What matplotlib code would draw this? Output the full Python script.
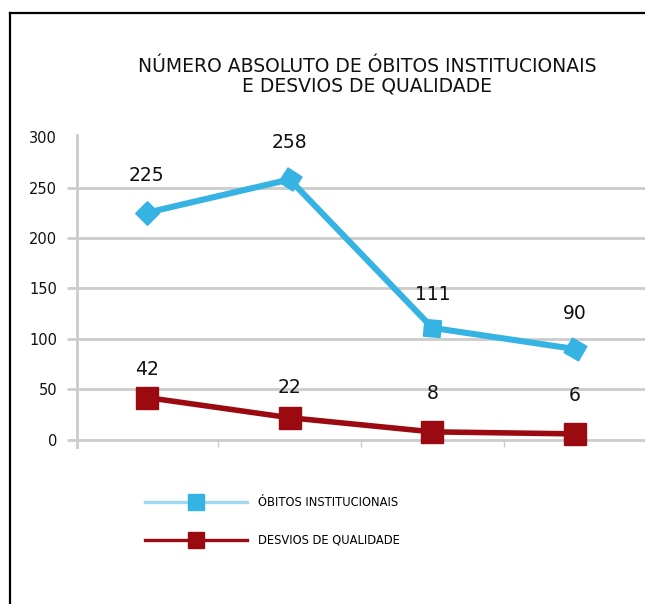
import matplotlib
matplotlib.use("Agg")
import matplotlib.pyplot as plt
from matplotlib.lines import Line2D

# data
categories = ["1", "2", "3", "4"]
obitos = [225, 258, 111, 90]
desvios = [42, 22, 8, 6]
yticks = [0, 50, 100, 150, 200, 250, 300]

title = "NÚMERO ABSOLUTO DE ÓBITOS INSTITUCIONAIS\nE DESVIOS DE QUALIDADE"
label_obitos = "ÓBITOS INSTITUCIONAIS"
label_desvios = "DESVIOS DE QUALIDADE"

blue = "#35B3E3"
blue_light = "#9ED9F0"
red = "#9B0A10"
grid_c = "#CCCCCC"

fig = plt.figure(figsize=(6.45, 6.04), dpi=100)
ax = fig.add_axes([77 / 645, (604 - 447) / 604, 1 - 77 / 645, 312 / 604])

x = list(range(len(categories)))

# lines
ax.plot(x, obitos, color=blue, lw=4.4, zorder=3)
ax.plot(x, desvios, color=red, lw=4.0, zorder=3)

# blue markers look like squares turned at different angles
angles = [0, 12, 40, 15]
for xi, yi, a in zip(x, obitos, angles):
    ax.plot(xi, yi, marker=(4, 0, a), markersize=17, color=blue,
            zorder=4, clip_on=False)
ax.plot(x, desvios, ls="none", marker="s", markersize=16, color=red,
        zorder=4, clip_on=False)

# value labels
offs_b = [20, 20, 17, 19]
for xi, yi, o in zip(x, obitos, offs_b):
    ax.annotate(str(yi), (xi, yi), xytext=(0, o), textcoords="offset points",
                ha="center", va="bottom", fontsize=13.5, color="#111111")
offs_r = [13, 15, 21, 21]
for xi, yi, o in zip(x, desvios, offs_r):
    ax.annotate(str(yi), (xi, yi), xytext=(0, o), textcoords="offset points",
                ha="center", va="bottom", fontsize=13.5, color="#111111")

ax.set_xlim(-0.49, 3.49)
ax.set_ylim(-7, 302)

ax.set_yticks(yticks)
ax.set_yticklabels([str(v) for v in yticks], fontsize=10.5, color="#111111")
ax.tick_params(axis="y", length=7.2, width=2, color=grid_c, pad=7)
ax.yaxis.grid(True, color=grid_c, lw=2)
ax.get_ygridlines()[-1].set_visible(False)
ax.yaxis.get_major_ticks()[-1].tick1line.set_visible(False)

# small separators between categories
ax.set_xticks([0.5, 1.5, 2.5])
ax.set_xticklabels([])
ax.tick_params(axis="x", direction="in", length=5, width=1, color=grid_c)

for s in ["top", "right", "bottom"]:
    ax.spines[s].set_visible(False)
ax.spines["left"].set_color(grid_c)
ax.spines["left"].set_linewidth(2)
ax.set_axisbelow(True)

# title
fig.text(367 / 645, 1 - 76 / 604, title, ha="center", va="center",
         fontsize=13.5, linespacing=1.05, color="#111111")

# legend
handles = [
    Line2D([], [], color=blue_light, lw=2.4, marker="s", markersize=11.5,
           markerfacecolor=blue, markeredgecolor=blue),
    Line2D([], [], color=red, lw=2.4, marker="s", markersize=11.5,
           markerfacecolor=red, markeredgecolor=red),
]
fig.legend(handles, [label_obitos, label_desvios], loc="upper left",
           bbox_to_anchor=(145 / 645, 1 - 496 / 604), frameon=False,
           fontsize=8.3, handlelength=8.85, handletextpad=0.95,
           labelspacing=2.15, borderpad=0, borderaxespad=0)

# frame
fig.add_artist(Line2D([10 / 645, 10 / 645], [0, 1 - 13 / 604],
                      color="black", lw=1.6))
fig.add_artist(Line2D([10 / 645, 1], [1 - 13 / 604, 1 - 13 / 604],
                      color="black", lw=1.6))

fig.savefig("out.png", dpi=100)
